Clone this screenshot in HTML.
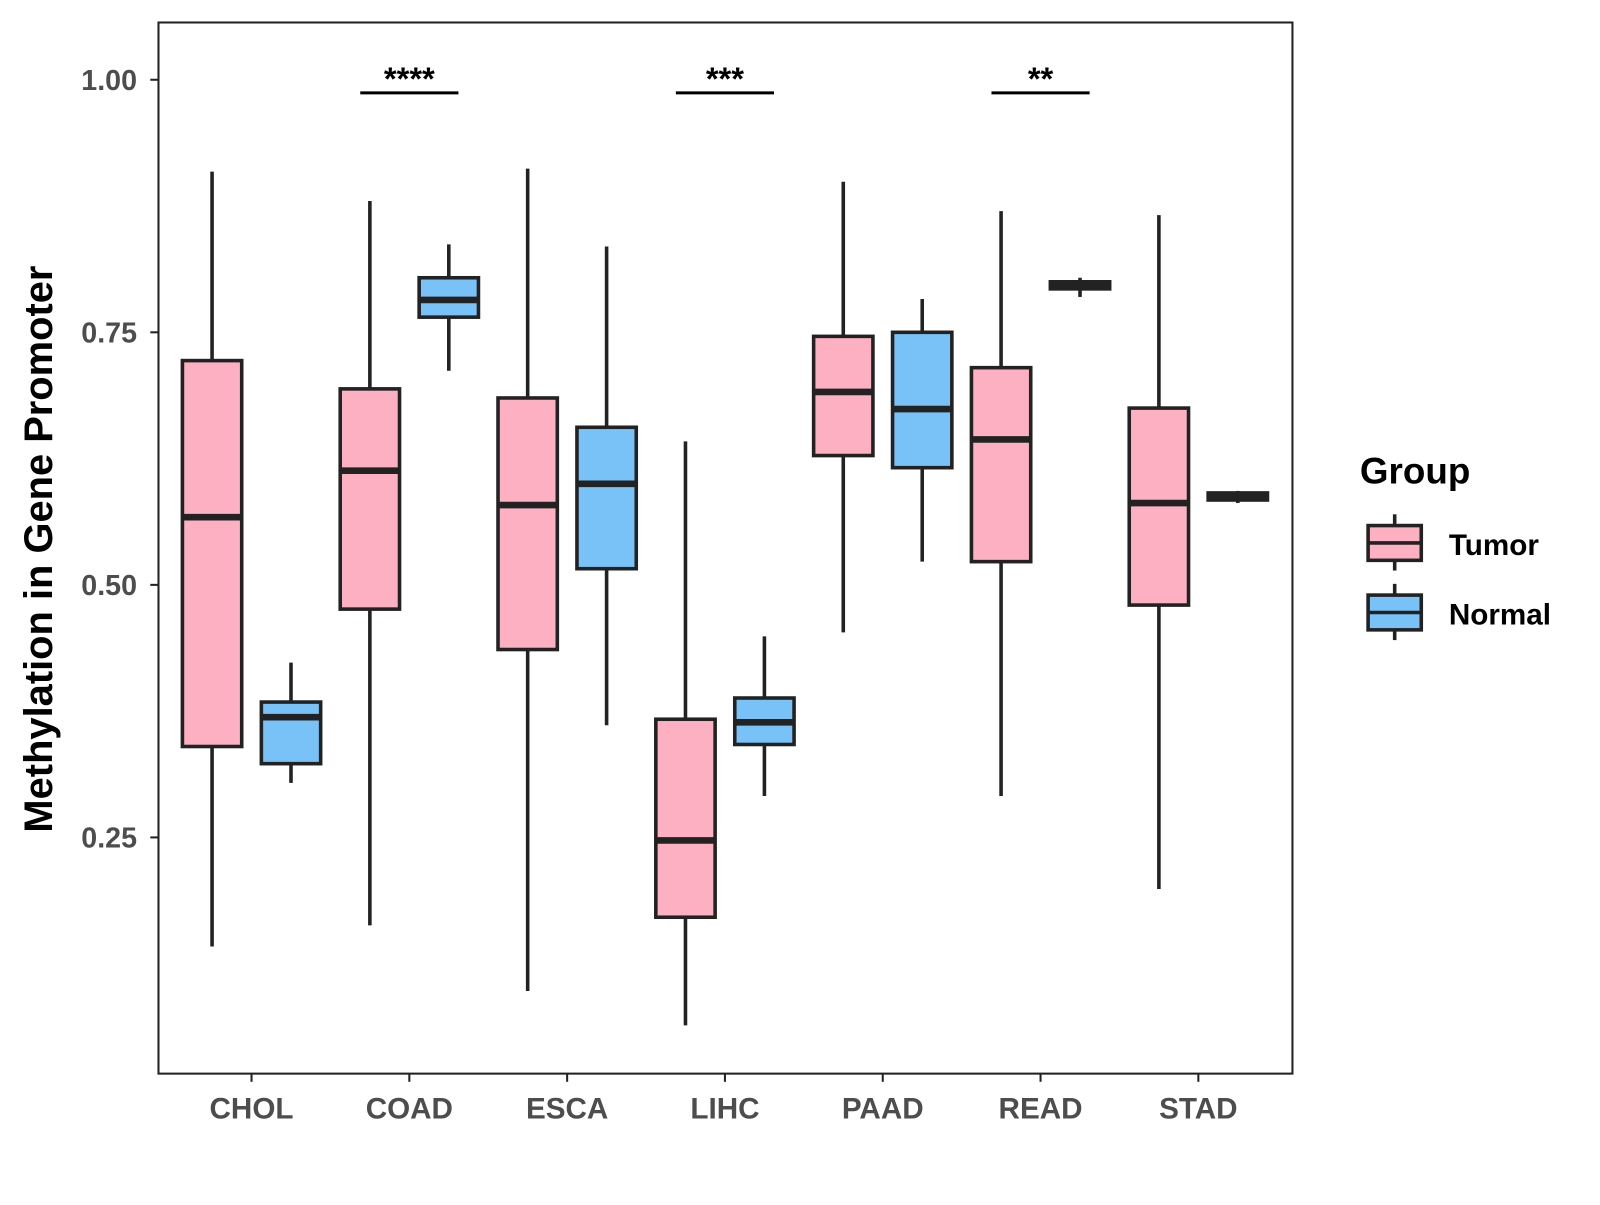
<!DOCTYPE html>
<html><head><meta charset="utf-8"><style>
body{margin:0;background:#fff;}
svg text{font-family:"Liberation Sans",Arial,sans-serif;font-weight:bold;}
</style></head><body>
<svg id="chart" width="1600" height="1200" xmlns="http://www.w3.org/2000/svg">
<g transform="scale(1.0225)">
<rect x="155" y="22" width="1109" height="1028" fill="#fff" stroke="#222" stroke-width="2"/>
<g id="marks"></g>
<text x="38" y="537" transform="rotate(-90 38 537)" text-anchor="middle" dominant-baseline="central" font-size="39" fill="#000">Methylation in Gene Promoter</text>
<g>
<text x="1330" y="473" font-size="36" fill="#000">Group</text>
<g>
<line x1="1364" y1="503" x2="1364" y2="558" stroke="#222" stroke-width="3.5"/>
<rect x="1338" y="514" width="52" height="34" fill="#fcb0c2" stroke="#222" stroke-width="3.5"/>
<line x1="1338" y1="531" x2="1390" y2="531" stroke="#222" stroke-width="3.5"/>
<text x="1417" y="543" font-size="29" fill="#000">Tumor</text></g>
<g>
<line x1="1364" y1="571" x2="1364" y2="626" stroke="#222" stroke-width="3.5"/>
<rect x="1338" y="582" width="52" height="34" fill="#78c2f8" stroke="#222" stroke-width="3.5"/>
<line x1="1338" y1="599" x2="1390" y2="599" stroke="#222" stroke-width="3.5"/>
<text x="1417" y="611" font-size="29" fill="#000">Normal</text></g>
</g>
</g>
</svg>
<script>
const categories=["CHOL","COAD","ESCA","LIHC","PAAD","READ","STAD"];
// [lower, q1, median, q3, upper]
const tumorStats=[[0.142,0.340,0.567,0.722,0.909],[0.163,0.476,0.613,0.694,0.880],[0.098,0.436,0.579,0.685,0.912],[0.064,0.171,0.247,0.367,0.642],[0.453,0.628,0.691,0.746,0.899],[0.291,0.523,0.644,0.715,0.870],[0.199,0.480,0.581,0.675,0.866]];
const normalStats=[[0.304,0.323,0.369,0.384,0.423],[0.712,0.765,0.782,0.804,0.837],[0.361,0.516,0.600,0.656,0.835],[0.291,0.342,0.364,0.388,0.449],[0.523,0.616,0.674,0.750,0.783],[0.785,0.793,0.796,0.800,0.804],[0.581,0.584,0.587,0.591,0.593]];
const yTicks=[0.25,0.5,0.75,1.0];
const yTickLabels=["0.25","0.50","0.75","1.00"];
const sigCats=["COAD","LIHC","READ"];
const sigLabels=["****","***","**"];
const sigLevel=0.987;
const NS="http://www.w3.org/2000/svg";
const g=document.getElementById('marks');
function y(v){return 78+(1-v)*988;}
function x(i){return 246+i*154.33;}
function mk(t,a){const e=document.createElementNS(NS,t);for(const k in a)e.setAttribute(k,a[k]);g.appendChild(e);return e;}
yTicks.forEach((v,i)=>{
 const t=mk('line',{x1:147,x2:155,y1:y(v),y2:y(v),stroke:'#222','stroke-width':2});
 
 
 const l=mk('text',{x:134,y:y(v)+10,'text-anchor':'end','font-size':28,fill:'#4d4d4d'});
 l.textContent=yTickLabels[i];
 
 
});
categories.forEach((c,i)=>{
 const t=mk('line',{x1:x(i),x2:x(i),y1:1050,y2:1058,stroke:'#222','stroke-width':2});
 
 
 const l=mk('text',{x:x(i),y:1094,'text-anchor':'middle','font-size':29,fill:'#4d4d4d'});
 l.textContent=c;
 
 
});
function box(cx,s,fill,name){
 const w=58;
 const wl=mk('line',{x1:cx,x2:cx,y1:y(s[4]),y2:y(s[0]),stroke:'#222','stroke-width':3.5});
 
 
 const r=mk('rect',{x:cx-w/2,y:y(s[3]),width:w,height:Math.max(y(s[1])-y(s[3]),1),fill:fill,stroke:'#222','stroke-width':3.5});
 
 
 const m=mk('line',{x1:cx-w/2,x2:cx+w/2,y1:y(s[2]),y2:y(s[2]),stroke:'#222','stroke-width':6.5});
 
 
}
categories.forEach((c,i)=>{
 box(x(i)-38.6,tumorStats[i],'#fcb0c2','tumor-'+c.toLowerCase());
 box(x(i)+38.6,normalStats[i],'#78c2f8','normal-'+c.toLowerCase());
});
sigCats.forEach((c,k)=>{
 const i=categories.indexOf(c);
 const l=mk('line',{x1:x(i)-48,x2:x(i)+48,y1:y(sigLevel),y2:y(sigLevel),stroke:'#000','stroke-width':3});
 
 
 const t=mk('text',{x:x(i),y:y(sigLevel)-3,'text-anchor':'middle','font-size':32,fill:'#000'});
 t.textContent=sigLabels[k];
 
 
});
</script>
</body></html>
